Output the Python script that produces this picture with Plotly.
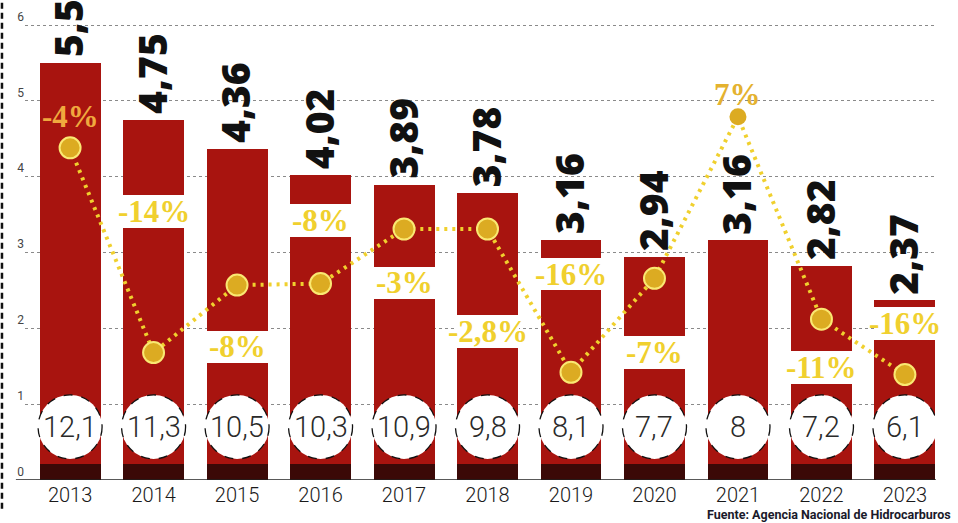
import plotly.graph_objects as go

# ---------------- data ----------------
years = ["2013", "2014", "2015", "2016", "2017", "2018", "2019", "2020", "2021", "2022", "2023"]
production = [5.5, 4.75, 4.36, 4.02, 3.89, 3.78, 3.16, 2.94, 3.16, 2.82, 2.37]
pct_labels = ["-4%", "-14%", "-8%", "-8%", "-3%", "-2,8%", "-16%", "-7%", "7%", "-11%", "-16%"]
line_points = [4.38, 1.68, 2.57, 2.59, 3.31, 3.31, 1.42, 2.66, 4.79, 2.12, 1.39]
pct_label_y = [4.79, 3.54, 1.755, 3.42, 2.60, 1.96, 2.715, 1.685, 5.08, 1.48, 2.065]
pct_has_band = [False, True, True, True, True, True, True, True, False, True, True]
circle_values = [12.1, 11.3, 10.5, 10.3, 10.9, 9.8, 8.1, 7.7, 8, 7.2, 6.1]
y_ticks = [0, 1, 2, 3, 4, 5, 6]

# ---------------- style ----------------
RED = "#a8140f"
DARK = "#3b0907"
YELLOW = "#f0d02e"
BAR_W = 0.73
BAND_H = 0.43
BOTTOM_BAND = 0.21
CIRCLE_Y = 0.70

x_idx = list(range(len(years)))


def fmt(v):
    s = ("%g" % v)
    return s.replace(".", ",")


fig = go.Figure()

# main bars
fig.add_trace(go.Bar(x=x_idx, y=production, width=BAR_W, marker=dict(color=RED, line=dict(width=0)),
                     hoverinfo="skip", showlegend=False))
# white bands behind percentage labels
band_x = [i for i, b in zip(x_idx, pct_has_band) if b]
band_base = [y - BAND_H / 2 for y, b in zip(pct_label_y, pct_has_band) if b]
fig.add_trace(go.Bar(x=band_x, y=[BAND_H] * len(band_x), base=band_base, width=BAR_W + 0.02,
                     marker=dict(color="white", line=dict(width=0)), hoverinfo="skip", showlegend=False))
# dark bottom strip
fig.add_trace(go.Bar(x=x_idx, y=[BOTTOM_BAND] * len(x_idx), width=BAR_W,
                     marker=dict(color=DARK, line=dict(width=0)), hoverinfo="skip", showlegend=False))

# yellow dotted line
marker_sizes = [21] * len(x_idx)
marker_sizes[8] = 17
marker_line_w = [2] * len(x_idx)
marker_line_w[8] = 0
fig.add_trace(go.Scatter(
    x=x_idx, y=line_points, mode="lines",
    line=dict(color=YELLOW, width=4, dash="3px,5px"),
    hoverinfo="skip", showlegend=False))
fig.add_trace(go.Scatter(
    x=x_idx, y=line_points, mode="markers",
    marker=dict(size=marker_sizes, color="#dcab22", opacity=1,
                line=dict(color="#fae872", width=marker_line_w)),
    hoverinfo="skip", showlegend=False))

annotations = []
shapes = []

# value labels (rotated)
for i, v in zip(x_idx, production):
    annotations.append(dict(x=i, y=v, xref="x", yref="y", text=fmt(v), textangle=-90,
                            showarrow=False, xanchor="center", yanchor="bottom", yshift=4, xshift=-2,
                            font=dict(family="Open Sans", size=39, color="#111111", weight=800)))

# percentage labels
for i, (t, y) in enumerate(zip(pct_labels, pct_label_y)):
    col = YELLOW
    if i == 0:
        col = "#f0a93e"
    elif i == 8:
        col = "#e4b22f"
    annotations.append(dict(x=i, y=y, xref="x", yref="y", text=t, showarrow=False,
                            xanchor="center", yanchor="middle",
                            font=dict(family="Liberation Serif", size=31, color=col, weight="bold")))

# circles with values
for i, v in zip(x_idx, circle_values):
    shapes.append(dict(type="circle", xref="x", yref="y", xsizemode="pixel", ysizemode="pixel",
                       xanchor=i, yanchor=CIRCLE_Y, x0=-32, x1=32, y0=-32, y1=32,
                       fillcolor="white", line=dict(color="#111111", width=1.3, dash="dash"), layer="above"))
    annotations.append(dict(x=i, y=CIRCLE_Y, xref="x", yref="y", text=fmt(v), showarrow=False,
                            xanchor="center", yanchor="middle",
                            font=dict(family="Roboto", size=29, color="#2a2a2a", weight=300)))

# source
annotations.append(dict(x=1.02, y=-0.072, xref="paper", yref="paper", text="Fuente: Agencia Nacional de Hidrocarburos",
                        showarrow=False, xanchor="right", yanchor="middle",
                        font=dict(family="Roboto", size=12.5, color="#1a1a2a", weight="bold")))

# left dashed border
shapes.append(dict(type="line", xref="paper", yref="paper", x0=-0.0253, x1=-0.0253, y0=-0.06, y1=1.0,
                   line=dict(color="#111111", width=2.5, dash="6px,4px"), layer="above"))
# baseline
shapes.append(dict(type="line", xref="paper", yref="y", x0=-0.01, x1=1.001, y0=0, y1=0,
                   line=dict(color="#222222", width=1.5), layer="above"))

fig.update_layout(
    width=958, height=523,
    margin=dict(l=25, r=23, t=0, b=43),
    paper_bgcolor="white", plot_bgcolor="white",
    barmode="overlay", bargap=0,
    annotations=annotations, shapes=shapes,
    xaxis=dict(range=[-0.54, 10.36], tickmode="array", tickvals=x_idx, ticktext=years,
               showgrid=False, zeroline=False, showline=False, ticks="", automargin=False,
               ticklabelstandoff=1,
               tickfont=dict(family="Roboto", size=20, color="#1a1a1a", weight=300)),
    yaxis=dict(range=[0, 6.33], tickmode="array", tickvals=y_ticks, ticktext=[str(t) for t in y_ticks],
               showgrid=True, gridcolor="#8a8a8a", gridwidth=1, griddash="3px,3px", zeroline=False,
               ticks="", ticklabelposition="outside top", automargin=False,
               tickfont=dict(family="Roboto", size=12, color="#444444")),
)

fig.write_html("out.html", config={"displayModeBar": False},
               post_script="document.body.style.margin='0px';document.body.style.overflow='hidden';")
